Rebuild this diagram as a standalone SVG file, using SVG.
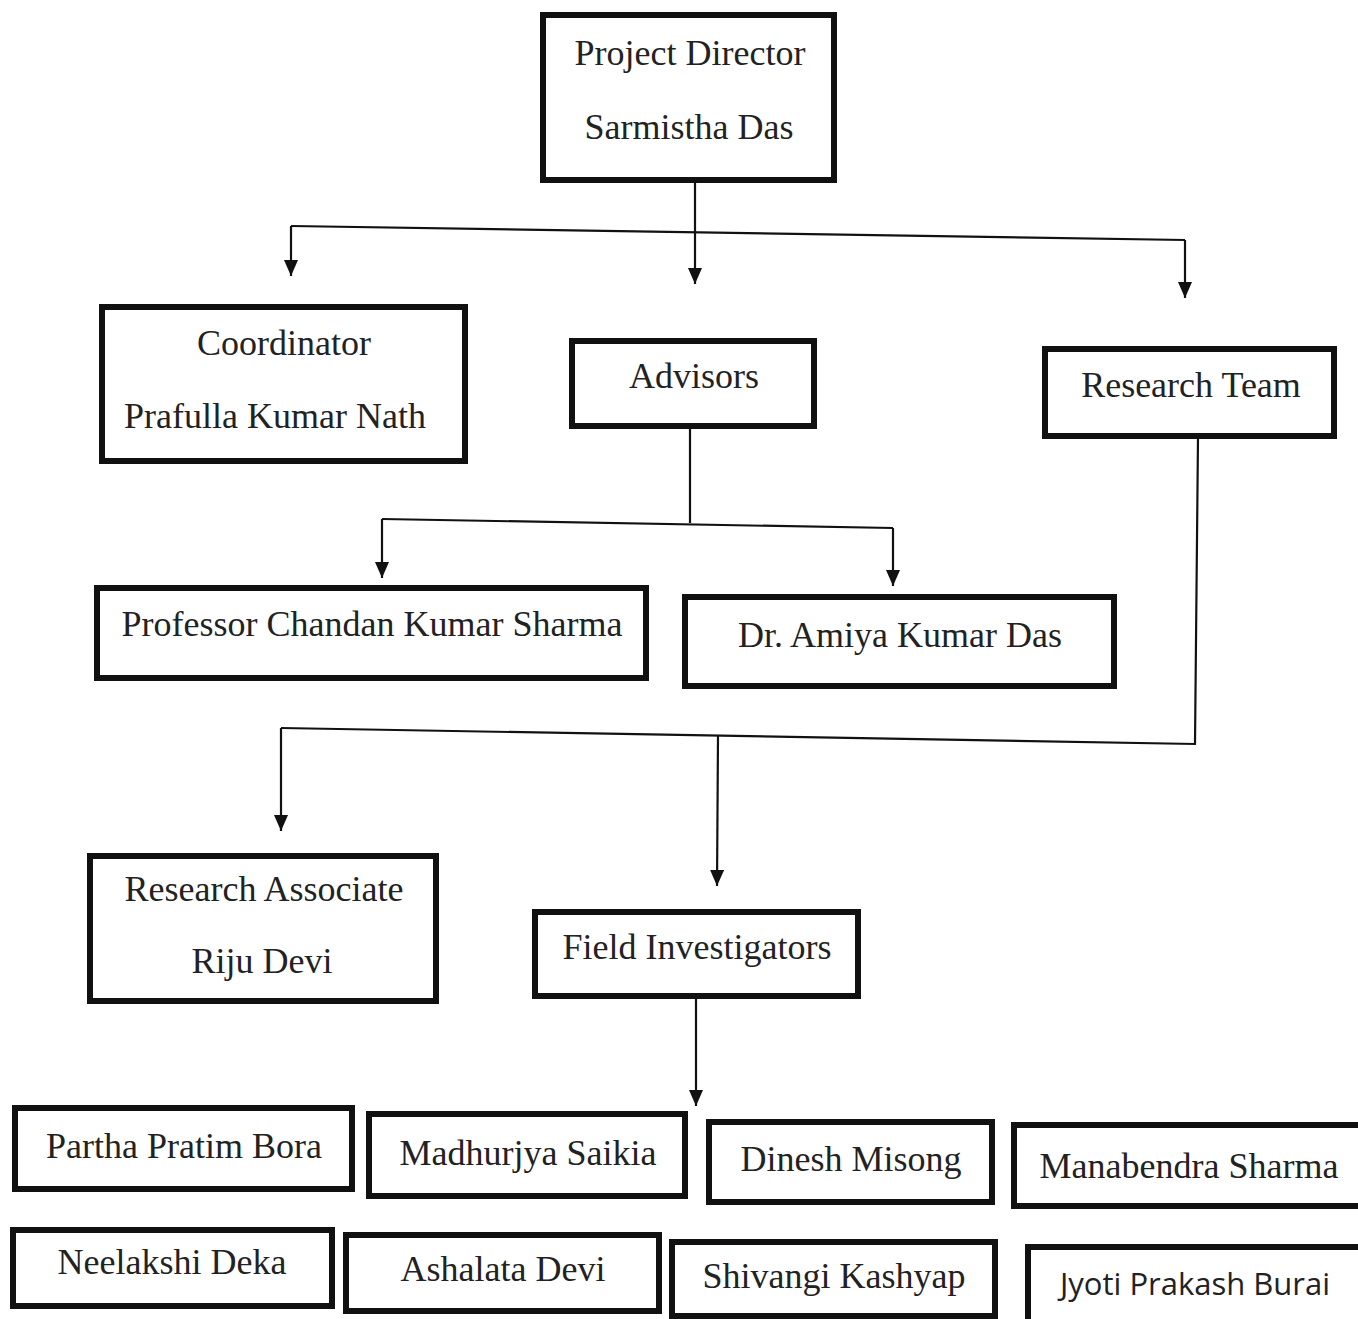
<svg xmlns="http://www.w3.org/2000/svg" width="1358" height="1319" viewBox="0 0 1358 1319">
<defs>
<marker id="arr" markerWidth="16" markerHeight="14" refX="16" refY="7" orient="auto" markerUnits="userSpaceOnUse" viewBox="0 0 16 14">
<path d="M0,0 L16,7 L0,14 Z" fill="#111"/>
</marker>
<style>
.box{fill:#fff;stroke:#111;stroke-width:6}
.t{font-family:"Liberation Serif","Times New Roman",serif;font-size:36px;fill:#222;text-anchor:middle}
.s{font-family:"Open Sans","Liberation Sans",sans-serif;font-size:31px;fill:#222;text-anchor:middle}
.c{fill:none;stroke:#111;stroke-width:2.2}
.a{fill:none;stroke:#111;stroke-width:2.2;marker-end:url(#arr)}
</style>
</defs>
<rect width="1358" height="1319" fill="#fff"/>
<g id="connectors">
<line class="c" x1="695" y1="181" x2="695" y2="230"/>
<polyline class="c" points="291,226 1185,240"/>
<line class="a" x1="291" y1="226" x2="291" y2="276"/>
<line class="a" x1="695" y1="230" x2="695" y2="284"/>
<line class="a" x1="1185" y1="240" x2="1185" y2="298"/>
<line class="c" x1="690" y1="427" x2="690" y2="523"/>
<polyline class="c" points="382,519 893,528"/>
<line class="a" x1="382" y1="519" x2="382" y2="578"/>
<line class="a" x1="893" y1="528" x2="893" y2="586"/>
<polyline class="c" points="1198,437 1195,744 281,728"/>
<line class="a" x1="281" y1="728" x2="281" y2="831"/>
<line class="a" x1="718" y1="736" x2="717" y2="886"/>
<line class="a" x1="696" y1="997" x2="696" y2="1106"/>
</g>
<g id="project-director">
<rect class="box" x="543" y="15" width="291" height="165"/>
<text class="t" x="690" y="65">Project Director</text>
<text class="t" x="689" y="139">Sarmistha Das</text>
</g>
<g id="coordinator">
<rect class="box" x="102" y="307" width="363" height="154"/>
<text class="t" x="284" y="355">Coordinator</text>
<text class="t" x="275" y="428">Prafulla Kumar Nath</text>
</g>
<g id="advisors">
<rect class="box" x="572" y="341" width="242" height="85"/>
<text class="t" x="694" y="388">Advisors</text>
</g>
<g id="research-team">
<rect class="box" x="1045" y="349" width="289" height="87"/>
<text class="t" x="1191" y="397">Research Team</text>
</g>
<g id="chandan">
<rect class="box" x="97" y="588" width="549" height="90"/>
<text class="t" x="372" y="636">Professor Chandan Kumar Sharma</text>
</g>
<g id="amiya">
<rect class="box" x="685" y="597" width="429" height="89"/>
<text class="t" x="900" y="647">Dr. Amiya Kumar Das</text>
</g>
<g id="research-associate">
<rect class="box" x="90" y="856" width="346" height="145"/>
<text class="t" x="264" y="901">Research Associate</text>
<text class="t" x="262" y="973">Riju Devi</text>
</g>
<g id="field-investigators">
<rect class="box" x="535" y="912" width="323" height="84"/>
<text class="t" x="697" y="959">Field Investigators</text>
</g>
<g id="partha">
<rect class="box" x="15" y="1108" width="337" height="81"/>
<text class="t" x="184" y="1158">Partha Pratim Bora</text>
</g>
<g id="madhurjya">
<rect class="box" x="369" y="1114" width="316" height="82"/>
<text class="t" x="528" y="1165">Madhurjya Saikia</text>
</g>
<g id="dinesh">
<rect class="box" x="709" y="1122" width="283" height="80"/>
<text class="t" x="851" y="1171">Dinesh Misong</text>
</g>
<g id="manabendra">
<rect class="box" x="1014" y="1125" width="350" height="81"/>
<text class="t" x="1189" y="1178">Manabendra Sharma</text>
</g>
<g id="neelakshi">
<rect class="box" x="13" y="1230" width="319" height="76"/>
<text class="t" x="172" y="1274">Neelakshi Deka</text>
</g>
<g id="ashalata">
<rect class="box" x="346" y="1235" width="313" height="76"/>
<text class="t" x="503" y="1281">Ashalata Devi</text>
</g>
<g id="shivangi">
<rect class="box" x="672" y="1242" width="323" height="74"/>
<text class="t" x="834" y="1288">Shivangi Kashyap</text>
</g>
<g id="jyoti">
<rect class="box" x="1028" y="1247" width="336" height="76"/>
<text class="s" x="1195" y="1295">Jyoti Prakash Burai</text>
</g>
</svg>
